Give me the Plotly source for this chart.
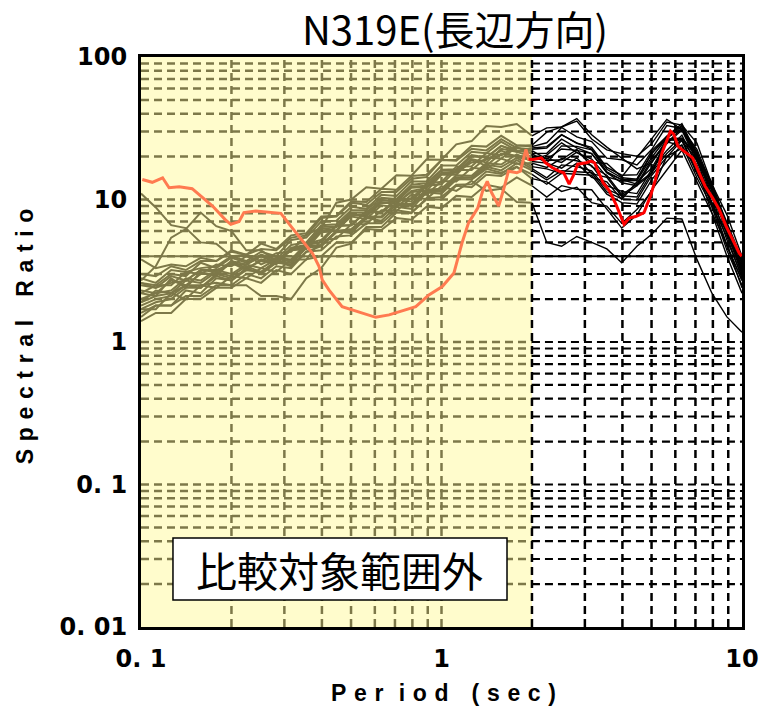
import plotly.graph_objects as go

# ---------------- data ----------------
periods = [0.1, 0.112, 0.126, 0.141, 0.158, 0.178, 0.2, 0.224, 0.251, 0.282,
           0.316, 0.355, 0.398, 0.447, 0.501, 0.562, 0.631, 0.708, 0.794, 0.891,
           1.0, 1.12, 1.26, 1.41, 1.58, 1.78, 2.0, 2.24, 2.51, 2.82,
           3.16, 3.55, 3.98, 4.47, 5.01, 5.62, 6.31, 7.08, 7.94, 8.91, 10.0]

eq01 = [1.5,1.8,1.8,2.3,2.2,2.8,2.7,3.3,3.0,3.6, 3.5,4.6,4.7,6.0,5.8,7.4,7.1,8.9,8.6,11.2, 11.0,13.8,13.9,17.0,16.0,18.9,16.5,14.2,17.5,17.0, 15.9,11.8,10.6,10.4,15.5,21.0,26.5,15.8,9.4,4.8, 2.7]
eq02 = [2.5,2.4,2.6,2.7,3.2,3.2,3.5,3.5,4.0,3.6, 4.4,4.7,6.2,6.4,7.8,7.8,9.6,9.3,11.5,12.0, 15.4,15.5,18.2,19.0,22.0,19.8,19.0,20.5,25.0,21.3, 19.2,14.4,13.5,13.6,19.8,27.0,31.5,20.2,11.6,6.0, 3.4]
eq03 = [1.8,2.0,2.1,2.5,2.4,3.0,2.8,3.2,3.1,3.7, 3.4,4.3,4.4,5.5,5.6,6.8,6.8,8.4,8.1,10.0, 10.0,12.5,12.2,14.9,14.6,16.9,15.0,12.8,15.3,15.0, 14.8,10.9,9.5,9.3,13.8,18.5,24.2,14.2,8.9,4.4, 2.5]
eq04 = [3.0,2.9,3.4,3.2,3.7,3.7,4.3,4.1,4.5,4.4, 5.4,5.6,7.4,7.6,9.5,9.2,11.3,11.3,14.0,14.4, 18.9,19.0,23.8,23.5,28.0,24.0,23.5,25.0,32.0,27.5, 25.5,19.5,19.0,17.5,22.5,33.0,31.5,22.5,12.5,7.0, 3.8]
eq05 = [1.4,1.6,1.6,2.0,2.0,2.4,2.4,2.8,2.6,3.2, 3.0,3.8,4.0,5.0,5.0,6.2,6.1,7.4,7.2,8.9, 8.7,10.6,10.4,12.7,12.1,14.3,12.5,10.4,12.5,11.8, 11.7,8.5,6.3,7.8,11.7,16.1,22.2,13.3,8.0,4.0, 2.2]
eq06 = [2.2,2.1,2.8,2.4,3.1,2.9,3.7,3.3,3.7,3.5, 4.6,4.8,6.3,6.0,7.8,7.6,9.5,9.4,11.3,11.5, 14.9,14.9,18.9,17.3,21.0,20.2,19.5,18.8,19.0,22.5, 17.0,14.8,10.8,12.8,15.5,26.5,27.0,20.5,10.8,6.5, 3.0]
eq07 = [11.0,8.8,6.6,6.3,5.0,4.9,4.0,4.1,3.5,3.9, 3.8,4.9,5.2,6.6,6.6,8.3,8.0,9.9,9.7,12.5, 12.8,16.1,16.1,19.6,19.4,23.3,21.0,18.0,23.8,23.6, 22.3,15.6,13.8,12.8,19.1,24.6,30.7,18.4,11.7,5.7, 3.3]
eq08 = [2.7,3.4,5.4,6.2,8.1,6.5,6.0,4.4,4.4,3.7, 4.5,4.8,6.4,6.5,8.1,8.1,9.9,9.6,12.1,12.3, 15.3,15.4,19.2,18.2,22.7,21.6,23.0,23.5,28.5,24.8, 23.2,16.8,14.8,14.9,22.0,27.8,33.0,21.0,12.5,6.6, 3.6]
eq09 = [1.9,2.1,2.2,2.5,2.5,2.6,2.5,2.5,2.1,2.1, 2.0,2.8,3.3,4.6,4.9,6.4,6.4,8.1,8.0,10.2, 10.4,12.7,12.8,15.7,15.1,18.0,16.0,13.7,15.9,15.6, 15.4,11.3,10.1,9.9,14.8,19.9,26.0,15.1,9.5,4.7, 2.7]
eq10 = [2.8,2.6,3.2,3.1,3.3,3.4,4.0,3.7,4.3,4.0, 5.2,5.4,7.0,7.1,8.9,8.6,10.8,10.6,13.4,13.4, 17.3,17.3,21.6,21.1,25.4,22.1,21.0,21.1,26.5,23.0, 21.0,15.4,13.8,13.9,21.2,26.9,32.5,19.7,12.0,6.5, 3.5]
eq11 = [2.2,2.5,2.5,3.1,3.0,3.5,3.4,4.0,3.7,4.2, 4.3,5.7,6.3,9.5,10.0,12.2,11.9,14.8,14.7,19.1, 19.0,24.4,25.7,32.8,32.3,33.9,28.0,31.8,32.3,35.5, 26.6,22.3,21.0,20.1,24.7,35.0,33.3,24.9,12.8,7.8, 4.0]
eq12 = [1.7,1.7,2.2,2.0,2.5,2.4,2.9,2.8,3.3,3.1, 3.8,3.8,5.2,5.3,6.7,6.7,8.4,8.3,10.3,10.1, 12.4,11.5,13.5,11.5,11.9,9.6,9.5,5.0,4.7,5.5, 5.0,4.5,3.6,4.7,5.7,7.4,7.3,3.8,2.2,1.5, 1.17]
eq13 = [2.0,2.2,2.3,2.8,2.7,3.2,3.0,3.5,3.3,3.8, 3.7,4.8,5.0,6.5,6.6,8.2,8.2,10.1,10.1,12.9, 13.3,17.0,17.1,21.2,20.4,23.8,24.0,29.7,32.3,37.0, 28.5,23.3,19.5,16.4,18.1,26.5,25.7,19.1,9.5,5.8, 3.0]
eq14 = [2.6,2.5,3.0,2.9,3.6,3.3,3.9,3.6,4.1,3.8, 4.8,5.0,6.6,6.7,8.4,8.4,10.3,10.1,12.7,13.0, 16.2,16.3,20.5,19.7,23.8,21.6,20.0,19.4,18.2,21.5, 18.2,17.9,14.4,19.8,27.0,36.5,31.0,21.8,11.4,6.4, 3.1]
eq15 = [1.7,1.9,2.0,2.4,2.4,2.9,2.7,3.2,3.1,3.7, 3.6,4.7,4.8,6.0,6.2,7.6,7.6,9.4,9.3,11.7, 11.6,14.3,14.3,17.5,16.9,19.6,17.0,16.4,15.2,18.0, 14.3,13.3,10.0,13.3,16.6,25.4,23.8,16.4,8.1,4.8, 2.4]
eq16 = [2.3,2.2,2.7,2.5,3.0,3.0,3.6,3.2,3.8,3.6, 4.5,4.7,6.0,6.1,7.6,7.3,9.1,8.8,10.8,10.8, 13.5,13.4,16.7,16.3,19.4,17.8,18.0,16.8,19.4,18.7, 17.3,12.5,11.4,11.0,16.3,22.1,28.3,17.3,10.5,5.2, 2.9]
eq17 = [1.9,2.3,2.2,2.7,2.6,3.1,2.9,3.4,3.1,3.6, 3.6,4.6,4.8,6.0,6.1,7.5,7.5,9.2,9.0,11.4, 11.4,14.0,13.8,16.4,15.4,17.0,14.0,13.3,11.4,12.2, 9.5,9.0,6.8,8.5,11.4,20.1,22.8,17.5,9.0,5.5, 2.8]
eq18 = [2.6,2.4,2.9,2.7,3.2,3.1,3.7,3.5,4.0,3.7, 4.4,4.5,5.9,6.0,7.8,7.9,9.9,9.8,12.3,12.5, 16.0,15.8,20.0,19.7,23.8,22.1,22.0,19.2,22.6,22.1, 21.0,15.4,13.1,12.5,18.4,25.0,31.5,19.2,12.1,6.0, 3.3]
eq19 = [1.6,1.8,1.8,2.1,2.1,2.5,2.5,3.0,2.8,3.4, 3.3,4.3,4.7,5.9,6.0,7.5,7.5,9.3,9.3,11.7, 11.9,14.8,14.7,18.0,17.6,20.7,18.5,18.0,16.6,19.6, 15.2,14.3,10.5,12.5,15.2,26.0,26.6,20.1,10.3,6.3, 3.2]
eq20 = [3.8,3.3,3.5,3.4,3.9,3.7,4.4,4.1,4.9,4.5, 5.6,5.8,7.6,7.7,9.7,9.6,11.9,11.7,14.6,14.9, 18.9,18.7,22.7,22.1,26.5,23.0,22.5,23.0,28.4,25.0, 22.6,16.3,14.2,13.9,21.0,27.8,34.1,20.6,13.1,6.5, 3.7]

records = [eq01, eq02, eq03, eq04, eq05, eq06, eq07, eq08, eq09, eq10,
           eq11, eq12, eq13, eq14, eq15, eq16, eq17, eq18, eq19, eq20]

mean_period = [0.101, 0.109, 0.118, 0.124, 0.134, 0.148, 0.173, 0.191, 0.199, 0.212,
               0.220, 0.241, 0.292, 0.303, 0.319, 0.372, 0.391, 0.401, 0.422, 0.467,
               0.505, 0.545, 0.604, 0.669, 0.760, 0.821, 0.908, 1.006, 1.10, 1.14,
               1.17, 1.23, 1.32, 1.37, 1.42, 1.47, 1.55, 1.61, 1.67, 1.78,
               1.83, 1.91, 1.95, 2.02, 2.15, 2.22, 2.34, 2.46, 2.55, 2.66,
               2.74, 2.84, 3.03, 3.15, 3.23, 3.45, 3.62, 3.81, 4.05, 4.21,
               4.43, 4.72, 4.96, 5.15, 5.42, 5.78, 5.93, 6.12, 6.30, 6.85,
               7.20, 7.54, 7.98, 8.40, 8.85, 9.30, 9.79, 9.98]
mean_ratio = [13.8, 13.2, 14.2, 12.1, 12.3, 11.9, 9.0, 7.2, 6.7, 7.0,
              8.1, 8.3, 8.0, 7.2, 6.3, 4.2, 3.4, 2.73, 2.32, 1.77,
              1.68, 1.59, 1.49, 1.55, 1.68, 1.77, 2.14, 2.45, 3.05, 4.0,
              4.95, 6.85, 8.7, 11.4, 13.4, 11.1, 9.0, 11.8, 15.8, 15.4,
              15.8, 22.5, 19.2, 19.1, 19.6, 18.1, 16.7, 15.8, 15.4, 12.8,
              14.6, 17.7, 18.1, 18.6, 18.1, 13.1, 11.5, 9.2, 6.7, 7.4,
              7.6, 8.1, 10.6, 13.8, 21.3, 30.2, 28.7, 23.7, 22.5, 19.6,
              15.4, 12.4, 10.3, 8.5, 6.5, 5.2, 4.2, 4.0]

compare_limit = 2.0      # sec: below this period is outside comparison range
reference_level = 4.0

x_ticks = [0.1, 1, 10]
x_ticktext = ["0. 1", "1", "10"]
y_ticks = [0.01, 0.1, 1, 10, 100]
y_ticktext = ["0. 01", "0. 1", "1", "10", "100"]

# ---------------- style ----------------
OLIVE = "#7d7849"
YELLOW = "#fffccc"
ORANGE = "#ff7a50"
RED = "#ff0000"
DASH = "8px,5px"

fig = go.Figure()

split = periods.index(compare_limit)
for rec in records:
    fig.add_trace(go.Scatter(x=periods[:split + 1], y=rec[:split + 1], mode="lines",
                             line=dict(color=OLIVE, width=2), hoverinfo="skip", showlegend=False))
for rec in records:
    fig.add_trace(go.Scatter(x=periods[split:], y=rec[split:], mode="lines",
                             line=dict(color="black", width=1.4), hoverinfo="skip", showlegend=False))

msplit = next(i for i, p in enumerate(mean_period) if p >= compare_limit)
fig.add_trace(go.Scatter(x=mean_period[:msplit + 1], y=mean_ratio[:msplit + 1], mode="lines",
                         line=dict(color=ORANGE, width=3), hoverinfo="skip", showlegend=False))
fig.add_trace(go.Scatter(x=mean_period[msplit - 1:], y=mean_ratio[msplit - 1:], mode="lines",
                         line=dict(color=RED, width=3), hoverinfo="skip", showlegend=False))

# ---------------- background, grid ----------------
shapes = [dict(type="rect", xref="x", yref="y", x0=0.1, x1=compare_limit, y0=0.01, y1=100,
               fillcolor=YELLOW, line_width=0, layer="below")]
for dec in [0.01, 0.1, 1, 10]:
    for m in range(1, 10):
        v = m * dec
        if v <= 0.01 * 1.0001:
            continue
        shapes.append(dict(type="line", xref="x", yref="y", x0=0.1, x1=compare_limit, y0=v, y1=v,
                           line=dict(color=OLIVE, width=2.5, dash=DASH), layer="below"))
        shapes.append(dict(type="line", xref="x", yref="y", x0=compare_limit, x1=10, y0=v, y1=v,
                           line=dict(color="black", width=2.2, dash=DASH), layer="below"))
for dec in [0.1, 1]:
    for m in range(1, 10):
        t = m * dec
        if t <= 0.1 * 1.0001:
            continue
        col = OLIVE if t < compare_limit - 1e-9 else "black"
        shapes.append(dict(type="line", xref="x", yref="y", x0=t, x1=t, y0=0.01, y1=100,
                           line=dict(color=col, width=2.5, dash=DASH), layer="below"))
shapes.append(dict(type="line", xref="x", yref="y", x0=0.1, x1=compare_limit,
                   y0=reference_level, y1=reference_level,
                   line=dict(color=OLIVE, width=2), layer="below"))
shapes.append(dict(type="line", xref="x", yref="y", x0=compare_limit, x1=10,
                   y0=reference_level, y1=reference_level,
                   line=dict(color="black", width=2), layer="below"))
# label box
shapes.append(dict(type="rect", xref="paper", yref="paper", x0=0.0532, x1=0.609, y0=0.0474, y1=0.156,
                   fillcolor="white", line=dict(color="black", width=1.5), layer="above"))

SP = "\u2004"
annotations = [
    dict(text="比較対象範囲外", xref="paper", yref="paper", x=0.331, y=0.1018,
         showarrow=False, font=dict(family="Noto Sans CJK JP", size=41, color="black"),
         xanchor="center", yanchor="middle"),
    dict(text=SP.join("Spectral") + SP * 3 + SP.join("Ratio"),
         xref="paper", yref="paper", x=-0.193, y=0.51, textangle=-90, showarrow=False,
         font=dict(family="Liberation Sans", size=23, color="black", weight="bold"),
         xanchor="center", yanchor="middle"),
    dict(text=SP.join("Per") + SP * 2 + SP.join("iod") + SP * 3 + SP.join("(sec)"),
         xref="paper", yref="paper", x=0.5025, y=-0.116, showarrow=False,
         font=dict(family="Liberation Sans", size=23, color="black", weight="bold"),
         xanchor="center", yanchor="middle"),
]

axis_common = dict(type="log", showgrid=False, zeroline=False, showline=True, linecolor="black",
                   linewidth=3, mirror=True, ticks="", automargin=False,
                   tickfont=dict(family="DejaVu Sans", size=24, color="black", weight="bold"))

fig.update_layout(
    width=764, height=707,
    margin=dict(l=141, r=22, t=57, b=80),
    paper_bgcolor="white", plot_bgcolor="white",
    title=dict(text="N319E(長辺方向)", x=455 / 764, xref="container", xanchor="center",
               y=1 - 31 / 707, yref="container", yanchor="middle",
               font=dict(family="Noto Sans CJK JP", size=40, color="black")),
    xaxis=dict(range=[-1, 1], tickvals=x_ticks, ticktext=x_ticktext, ticklabelstandoff=8, **axis_common),
    yaxis=dict(range=[-2, 2], tickvals=y_ticks, ticktext=y_ticktext, ticklabelstandoff=6, **axis_common),
    shapes=shapes,
    annotations=annotations,
    showlegend=False,
)

fig.write_html("out.html")
